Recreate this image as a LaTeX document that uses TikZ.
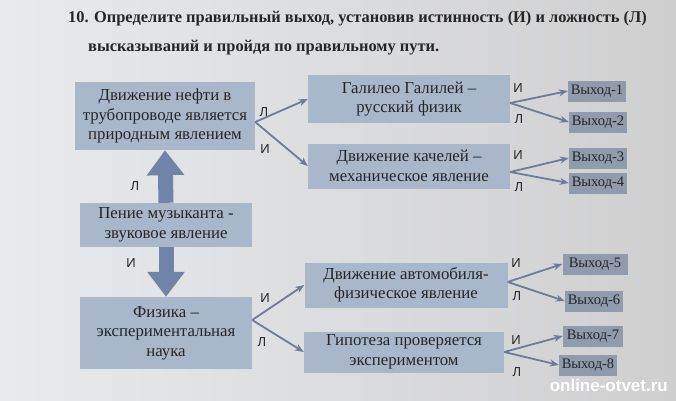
\documentclass[tikz,border=0pt]{standalone}
\usepackage{fontspec}
\setmainfont{Liberation Serif}
\newfontfamily\lsans{Liberation Sans}
\usetikzlibrary{arrows.meta}
\definecolor{bgL}{HTML}{E8EAEC}
\definecolor{bgR}{HTML}{CFCFD0}
\definecolor{boxc}{HTML}{A9B7CB}
\definecolor{exitc}{HTML}{909BAB}
\definecolor{arr}{HTML}{7083A8}
\definecolor{thin}{HTML}{6F7C98}
\definecolor{ink}{HTML}{262626}
\tikzset{
  stmt/.style={fill=boxc, text=ink, font=\fontsize{16.8}{19.5}\selectfont, align=center, inner sep=0pt},
  exitbox/.style={fill=exitc, text=ink, font=\fontsize{14.5}{15}\selectfont, inner sep=0pt, minimum height=21pt},
  conn/.style={draw=thin, line width=1.8pt, -{Stealth[length=9pt,width=7pt]}},
  bigarrow/.style={draw=arr, line width=15pt, -{Triangle[width=36pt,length=25pt]}},
  lab/.style={text=ink, font=\lsans\fontsize{13}{13}\selectfont, inner sep=0pt},
  title/.style={text=ink, font=\bfseries\fontsize{16.4}{18}\selectfont, inner sep=0pt, anchor=west}
}
\begin{document}
\begin{tikzpicture}[x=1pt,y=-1pt]
\useasboundingbox (0,0) rectangle (676,400);
\shade[left color=bgL, right color=bgR] (0,0) rectangle (676,400);
\node[title] (t1) at (68,19) {10. Определите правильный выход, установив истинность (И) и ложность (Л)};
\node[title] (t2) at (88,48) {высказываний и пройдя по правильному пути.};

\node[stmt, minimum width=180pt, minimum height=68pt] (A) at (165,116) {Движение нефти в\\трубопроводе является\\природным явлением};
\node[stmt, minimum width=172pt, minimum height=44pt] (B) at (166,225) {Пение музыканта -\\звуковое явление};
\node[stmt, minimum width=172pt, minimum height=72pt] (C) at (166,333) {Физика –\\экспериментальная\\наука};

\node[stmt, minimum width=202pt, minimum height=48pt] (D) at (409,99) {Галилео Галилей –\\русский физик};
\node[stmt, minimum width=202pt, minimum height=45pt] (E) at (409,166) {Движение качелей –\\механическое явление};
\node[stmt, minimum width=203pt, minimum height=45pt] (F) at (406,285) {Движение автомобиля-\\физическое явление};
\node[stmt, minimum width=200pt, minimum height=41pt] (G) at (404,352) {Гипотеза проверяется\\экспериментом};

\node[exitbox, minimum width=58pt] (X1) at (597,91) {Выход-1};
\node[exitbox, minimum width=58pt] (X2) at (598,122) {Выход-2};
\node[exitbox, minimum width=58pt] (X3) at (598,158) {Выход-3};
\node[exitbox, minimum width=58pt] (X4) at (598,183) {Выход-4};
\node[exitbox, minimum width=65pt] (X5) at (595,264) {Выход-5};
\node[exitbox, minimum width=58pt] (X6) at (594,301) {Выход-6};
\node[exitbox, minimum width=60pt] (X7) at (593,336) {Выход-7};
\node[exitbox, minimum width=58pt] (X8) at (588,365) {Выход-8};

\draw[bigarrow] (B.north) -- (A.south);
\draw[bigarrow] (B.south) -- (C.north);
\node[lab] (lB1) at (135,186) {Л};
\node[lab] (lB2) at (131,263) {И};

\coordinate (sA) at ([yshift=-6pt]A.east);
\draw[conn] (sA) -- (D.west);
\draw[conn] (sA) -- (E.west);
\node[lab] (lA1) at (264,112) {Л};
\node[lab] (lA2) at (265,149) {И};

\coordinate (sC) at ([yshift=13pt]C.east);
\draw[conn] (sC) -- (F.west);
\draw[conn] (sC) -- (G.west);
\node[lab] (lC1) at (265,298) {И};
\node[lab] (lC2) at (262,342) {Л};

\coordinate (sD) at ([yshift=-4pt]D.east);
\draw[conn] (sD) -- (X1.west);
\draw[conn] (sD) -- (X2.west);
\node[lab] (lD1) at (518,88) {И};
\node[lab] (lD2) at (519,119) {Л};

\coordinate (sE) at ([yshift=-6pt]E.east);
\draw[conn] (sE) -- (X3.west);
\draw[conn] (sE) -- (X4.west);
\node[lab] (lE1) at (518,155) {И};
\node[lab] (lE2) at (519,187) {Л};

\coordinate (sF) at ([yshift=3pt]F.east);
\draw[conn] (sF) -- (X5.west);
\draw[conn] (sF) -- (X6.west);
\node[lab] (lF1) at (516,263) {И};
\node[lab] (lF2) at (517,296) {Л};

\coordinate (sG) at (G.east);
\draw[conn] (sG) -- (X7.west);
\draw[conn] (sG) -- (X8.west);
\node[lab] (lG1) at (516,340) {И};
\node[lab] (lG2) at (517,372) {Л};

\node[text=white, font=\lsans\bfseries\fontsize{17}{17}\selectfont, inner sep=0pt, anchor=east] (wm) at (668,385) {online-otvet.ru};
\end{tikzpicture}
\end{document}
